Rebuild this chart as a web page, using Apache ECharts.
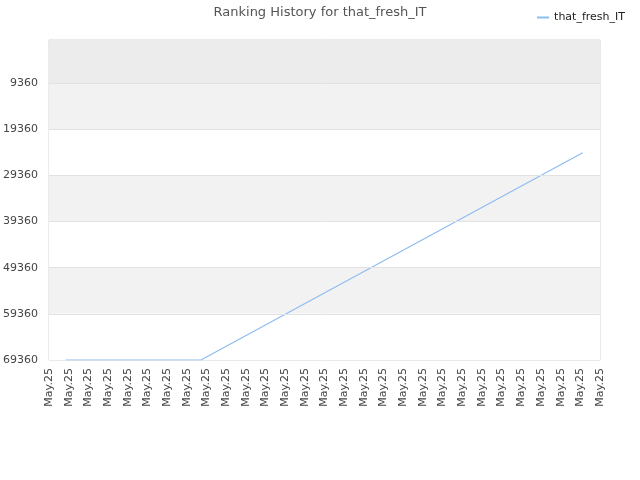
<!DOCTYPE html>
<html>
<head>
<meta charset="utf-8">
<script src="https://cdn.jsdelivr.net/npm/echarts@6/dist/echarts.min.js"></script>
<style>
  html, body { margin: 0; padding: 0; background: #fff; }
  #chart { width: 640px; height: 480px; }
</style>
</head>
<body>
<div id="chart"></div>
<script>
// x positions are days from the left edge of the axis
const dayPositions = [0.85, 7.72, 27.12]
const ranks = [69360, 69360, 24430]
const rankTicks = [9360, 19360, 29360, 39360, 49360, 59360, 69360]
const dateLabels = [
    "May.25", "May.25", "May.25", "May.25", "May.25", "May.25", "May.25", "May.25",
    "May.25", "May.25", "May.25", "May.25", "May.25", "May.25", "May.25", "May.25",
    "May.25", "May.25", "May.25", "May.25", "May.25", "May.25", "May.25", "May.25",
    "May.25", "May.25", "May.25", "May.25", "May.25"
]
const seriesName = "that_fresh_IT"

const chart = echarts.init(document.getElementById("chart"), null, { renderer: "canvas" })

// background bands: top partial band darker, then alternating grey / white
let bands = [[{ yAxis: 0, itemStyle: { color: "#ececec" } }, { yAxis: rankTicks[0] }]]
for (let i = 0; i < rankTicks.length - 1; i++) {
    bands.push([
        { yAxis: rankTicks[i], itemStyle: { color: i % 2 === 0 ? "#f2f2f2" : "#ffffff" } },
        { yAxis: rankTicks[i + 1] }
    ])
}
// horizontal grid lines at each labelled rank
let gridLines = rankTicks.slice(0, -1).map((r) => ({ yAxis: r }))

const option = {
    animation: false,
    textStyle: { fontFamily: "DejaVu Sans" },
    title: {
        text: "Ranking History for " + seriesName,
        left: "center",
        top: 1,
        textStyle: { fontSize: 13, fontWeight: "normal", color: "#555" }
    },
    legend: {
        right: 10,
        top: 7,
        itemWidth: 12,
        itemHeight: 2,
        icon: "rect",
        textStyle: { fontSize: 11, color: "#222" },
        data: [seriesName]
    },
    grid: {
        left: 49, right: 40, top: 40, bottom: 120,
        show: true, borderColor: "#d6d6d6", borderWidth: 1
    },
    xAxis: {
        type: "value",
        min: 0,
        max: dateLabels.length - 1,
        interval: 1,
        axisLine: { show: true, lineStyle: { color: "#d6d6d6" } },
        axisTick: { show: false },
        splitLine: { show: false },
        axisLabel: {
            rotate: 90,
            fontSize: 11,
            color: "#444",
            margin: 8,
            formatter: (v) => dateLabels[Math.round(v)] || ""
        }
    },
    yAxis: {
        type: "value",
        inverse: true,
        min: 0,
        max: 69360,
        axisLine: { show: true, lineStyle: { color: "#d6d6d6" } },
        axisTick: { show: false, customValues: rankTicks },
        axisLabel: {
            fontSize: 11, color: "#444", margin: 11,
            customValues: rankTicks,
            formatter: (v) => String(v)
        },
        splitLine: { show: false },
        splitArea: { show: false }
    },
    series: [{
        name: seriesName,
        type: "line",
        data: dayPositions.map((d, i) => [d, ranks[i]]),
        showSymbol: false,
        lineStyle: { width: 1.2, color: "#8fbcf2" },
        itemStyle: { color: "#8fbcf2" },
        markArea: { silent: true, data: bands },
        markLine: {
            silent: true,
            symbol: "none",
            label: { show: false },
            lineStyle: { type: "solid", width: 1, color: "#e2e2e2" },
            data: gridLines
        },
        z: 3
    }]
}

chart.setOption(option)
</script>
</body>
</html>
